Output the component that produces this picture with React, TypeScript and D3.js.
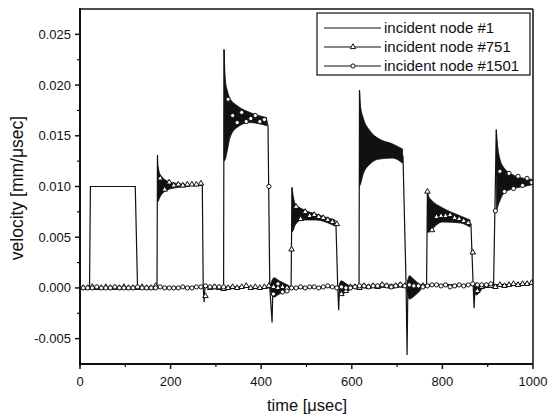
import React from "react";
import * as d3 from "d3";

const W = 550;
const H = 418;

// axes
const xDomain: [number, number] = [0, 1000];
const yDomain: [number, number] = [-0.0075, 0.0275];
const xTicks = [0, 200, 400, 600, 800, 1000];
const xMinorTicks = [100, 300, 500, 700, 900];
const yTicks = [-0.005, 0, 0.005, 0.01, 0.015, 0.02, 0.025];
const yTickLabels = ["-0.005", "0.000", "0.005", "0.010", "0.015", "0.020", "0.025"];
const yMinorTicks = [-0.0025, 0.0025, 0.0075, 0.0125, 0.0175, 0.0225];
const xTitle = "time [μsec]";
const yTitle = "velocity [mm/μsec]";
const legendLabels = ["incident node #1", "incident node #751", "incident node #1501"];

// node #1 : [time, velocity]
const node1Line: [number, number][] = [
  [0, 0], [21, 0], [23, 0.01], [122, 0.01], [127, 0], [140, 0.0], [300, 0.0001], [450, 0.0],
  [600, 0.0001], [616, 0.0001], [617, 0.0195], [620, 0.015], [630, 0.014], [650, 0.0137],
  [680, 0.0135], [713, 0.013], [720, 0], [722, -0.0066], [724, 0.0008], [730, -0.0004],
  [740, 0.0003], [760, 0.0002], [800, 0.0003], [900, 0.0003], [1000, 0.0004],
];
// oscillation envelopes : [time, upper, lower]
const node1Bands: [number, number, number][][] = [
  [[617, 0.0195, 0.01], [619, 0.018, 0.0102], [625, 0.0168, 0.0112], [640, 0.0155, 0.0122],
   [660, 0.0147, 0.0127], [690, 0.0142, 0.0128], [712, 0.0137, 0.0123]],
  [[722, 0.0003, -0.0003], [727, 0.0012, -0.0011], [738, 0.0008, -0.0008], [752, 0.0002, -0.0002]],
];

// node #751
const node751Line: [number, number][] = [
  [0, 0], [170, 0.0001], [171, 0.0131], [173, 0.01], [200, 0.0101], [270, 0.0101], [272, 0],
  [274, -0.0014], [276, 0.0002], [290, -0.0001], [350, 0.0001], [400, 0.0], [466, 0.0001],
  [468, 0.0099], [471, 0.0072], [480, 0.0073], [520, 0.007], [565, 0.0063], [569, 0],
  [571, -0.0022], [573, 0.0003], [580, -0.0004], [600, 0.0], [700, 0.0001], [765, 0.0001],
  [767, 0.0095], [770, 0.007], [790, 0.007], [820, 0.0069], [863, 0.0063], [868, 0.0001],
  [870, -0.002], [872, 0.0003], [880, 0.0], [950, 0.0003], [1000, 0.0004],
];
const node751Bands: [number, number, number][][] = [
  [[172, 0.012, 0.0085], [175, 0.0114, 0.0088], [180, 0.011, 0.0092], [195, 0.0105, 0.0097],
   [215, 0.0103, 0.0099], [240, 0.0102, 0.01]],
  [[468, 0.0099, 0.0055], [471, 0.009, 0.0057], [475, 0.0083, 0.0062], [490, 0.0078, 0.0067],
   [520, 0.0073, 0.0067], [563, 0.0067, 0.0061]],
  [[572, 0.0002, -0.0002], [576, 0.0007, -0.0006], [588, 0.0004, -0.0004], [598, 0.0001, -0.0001]],
  [[767, 0.0095, 0.0055], [770, 0.009, 0.0055], [775, 0.0087, 0.0057], [800, 0.0079, 0.0065],
   [840, 0.0071, 0.0064], [861, 0.0067, 0.006]],
  [[870, 0.0002, -0.0002], [874, 0.0005, -0.0007], [886, 0.0002, -0.0002]],
];
// marker values at t = 7, 17, ..., 997
const node751Markers = [
  0.0, 0.0, 0.0001, 0.0, 0.0, 0.0001, 0.0, 0.0, 0.0, 0.0001, 0.0, 0.0, 0.0, 0.0001, 0.0, 0.0, 0.0002,
  0.0108, 0.0097, 0.0104, 0.0101, 0.0102, 0.0101, 0.0102, 0.0102, 0.0102, 0.0103,
  -0.0008,
  0.0, 0.0001, 0.0, -0.0001, 0.0, 0.0001, 0.0, 0.0001, 0.0002, 0.0, 0.0001, 0.0, 0.0001, 0.0002,
  0.0001, 0.0, 0.0001, 0.0,
  0.0038,
  0.008, 0.0068, 0.0075, 0.0071, 0.0072, 0.007, 0.0069, 0.0067, 0.0065, 0.0063,
  -0.0006, -0.0003, 0.0001,
  0.0001, 0.0, 0.0002, 0.0001, 0.0002, 0.0001, 0.0003, 0.0002, 0.0001, 0.0002, 0.0003, 0.0002,
  0.0003, 0.0002, 0.0002, 0.0002,
  0.0095,
  0.0057, 0.007, 0.0071, 0.0071, 0.0072, 0.0069, 0.0068, 0.0066, 0.0064,
  0.0035,
  -0.0003, 0.0001, 0.0002, 0.0002, 0.0001, 0.0003, 0.0002, 0.0003, 0.0004, 0.0003, 0.0004,
  0.0004, 0.0005,
];

// node #1501
const node1501Line: [number, number][] = [
  [0, 0], [100, 0.0], [317, 0.0001], [318, 0.0235], [320, 0.0175], [330, 0.0172], [350, 0.017],
  [380, 0.0168], [412, 0.0165], [415, 0.016], [419, 0], [424, -0.0034], [426, 0.0005],
  [435, -0.0002], [450, -0.0001], [500, 0.0], [600, 0.0002], [700, 0.0003], [800, 0.0003],
  [913, 0.0003], [919, 0.0156], [921, 0.011], [940, 0.0106], [970, 0.0104], [1000, 0.0105],
];
const node1501Bands: [number, number, number][][] = [
  [[318, 0.0235, 0.0125], [321, 0.0205, 0.0127], [325, 0.0195, 0.0135], [331, 0.0187, 0.0148],
   [346, 0.018, 0.0158], [375, 0.0173, 0.0163], [412, 0.0168, 0.016]],
  [[421, 0.0004, -0.0004], [428, 0.001, -0.0009], [440, 0.0007, -0.0006], [462, 0.0002, -0.0002]],
  [[919, 0.0156, 0.0075], [922, 0.014, 0.008], [927, 0.0127, 0.0086], [935, 0.0119, 0.0093],
   [950, 0.0113, 0.0097], [980, 0.0108, 0.01], [1000, 0.0107, 0.0102]],
];
const node1501Markers = [
  0.0, 0.0, 0.0, 0.0001, 0.0, 0.0, 0.0, 0.0001, 0.0, 0.0, 0.0, 0.0, 0.0001, 0.0, 0.0, 0.0,
  0.0, 0.0001, 0.0, 0.0, 0.0, 0.0, 0.0001, 0.0, 0.0, 0.0001, 0.0001, 0.0002, 0.0001, 0.0001,
  0.0001, 0.0001,
  0.0186, 0.017, 0.0163, 0.0173, 0.0164, 0.0167, 0.017, 0.0164, 0.0166,
  0.01,
  -0.0006, 0.0004, -0.0004, -0.0003, 0.0,
  0.0, 0.0001, 0.0, 0.0001, 0.0001, 0.0, 0.0001, 0.0002, 0.0001, 0.0, 0.0001, 0.0,
  0.0, 0.0001, 0.0002, 0.0002, 0.0001, 0.0002, 0.0002, 0.0003, 0.0002, 0.0001, 0.0002, 0.0003,
  0.0002, 0.0003, 0.0002, 0.0002, 0.0001, 0.0002, 0.0003, 0.0003, 0.0002, 0.0003, 0.0001,
  0.0002, 0.0003, 0.0002, 0.0003, 0.0004, 0.0003, 0.0003, 0.0003, 0.0004,
  0.0076,
  0.0115, 0.0095, 0.0113, 0.0098, 0.011, 0.0101, 0.0108, 0.0104,
];
const markerStart = 7;
const markerStep = 10;

const FONT = "'Liberation Sans', Arial, Helvetica, sans-serif";

export default function App() {
  const x = d3.scaleLinear().domain(xDomain).range([80, 533]);
  const y = d3.scaleLinear().domain(yDomain).range([364, 9]);

  const line = d3
    .line<[number, number]>()
    .x((d) => x(d[0]))
    .y((d) => y(d[1]));
  const area = d3
    .area<[number, number, number]>()
    .x((d) => x(d[0]))
    .y0((d) => y(d[2]))
    .y1((d) => y(d[1]))
    .curve(d3.curveMonotoneX);

  const tri = d3.symbol().type(d3.symbolTriangle).size(13)() as string;

  const markerPts = (vals: number[]) =>
    vals.map((v, i) => [markerStart + i * markerStep, v] as [number, number]);

  const stroke = "#111";

  const series = [
    { line: node1Line, bands: node1Bands, markers: null as null | number[], kind: "none" },
    { line: node751Line, bands: node751Bands, markers: node751Markers, kind: "tri" },
    { line: node1501Line, bands: node1501Bands, markers: node1501Markers, kind: "circle" },
  ];

  const [x0, x1] = x.range();
  const [yb, yt] = y.range();

  return (
    <svg
      width={W}
      height={H}
      style={{ position: "absolute", left: 0, top: 0, background: "#fff" }}
    >
      <defs>
        <clipPath id="plotclip">
          <rect x={x0} y={yt} width={x1 - x0} height={yb - yt} />
        </clipPath>
      </defs>
      <rect width={W} height={H} fill="#fff" />

      {/* data */}
      <g clipPath="url(#plotclip)">
        {series.map((s, si) => (
          <g key={si}>
            {s.bands.map((b, bi) => (
              <path key={bi} d={area(b) || ""} fill={stroke} stroke={stroke} strokeWidth={0.8} />
            ))}
            <path d={line(s.line) || ""} fill="none" stroke={stroke} strokeWidth={1.2} />
          </g>
        ))}
        {series.map((s, si) =>
          s.markers ? (
            <g key={"m" + si}>
              {markerPts(s.markers).map((p, i) =>
                s.kind === "circle" ? (
                  <circle
                    key={i}
                    cx={x(p[0])}
                    cy={y(p[1])}
                    r={2.1}
                    fill="#fff"
                    stroke={stroke}
                    strokeWidth={1}
                  />
                ) : (
                  <path
                    key={i}
                    d={tri}
                    transform={`translate(${x(p[0])},${y(p[1])})`}
                    fill="#fff"
                    stroke={stroke}
                    strokeWidth={1}
                  />
                )
              )}
            </g>
          ) : null
        )}
      </g>

      {/* frame */}
      <line x1={x0} y1={yt} x2={x1} y2={yt} stroke={stroke} strokeWidth={1.5} />
      <line x1={x1} y1={yt} x2={x1} y2={yb} stroke={stroke} strokeWidth={1.5} />
      <line x1={x0} y1={yt - 1} x2={x0} y2={yb + 2} stroke={stroke} strokeWidth={2} />
      <line x1={x0 - 1} y1={yb} x2={x1} y2={yb} stroke={stroke} strokeWidth={2} />

      {/* y ticks */}
      {yTicks.map((t, i) => (
        <g key={"yt" + i}>
          <line x1={x0 - 5} x2={x0} y1={y(t)} y2={y(t)} stroke={stroke} strokeWidth={1.5} />
          <text
            x={x0 - 9}
            y={y(t)}
            dy="0.35em"
            textAnchor="end"
            fontFamily={FONT}
            fontSize={13}
            fill={stroke}
          >
            {yTickLabels[i]}
          </text>
        </g>
      ))}
      {yMinorTicks.map((t, i) => (
        <line key={"ym" + i} x1={x0 - 3} x2={x0} y1={y(t)} y2={y(t)} stroke={stroke} strokeWidth={1.2} />
      ))}

      {/* x ticks */}
      {xTicks.map((t, i) => (
        <g key={"xt" + i}>
          <line x1={x(t)} x2={x(t)} y1={yb} y2={yb + 5} stroke={stroke} strokeWidth={1.5} />
          <text
            x={x(t)}
            y={yb + 22}
            textAnchor="middle"
            fontFamily={FONT}
            fontSize={13}
            fill={stroke}
          >
            {t}
          </text>
        </g>
      ))}
      {xMinorTicks.map((t, i) => (
        <line key={"xm" + i} x1={x(t)} x2={x(t)} y1={yb} y2={yb + 3} stroke={stroke} strokeWidth={1.2} />
      ))}

      {/* titles */}
      <text
        x={307}
        y={411}
        textAnchor="middle"
        fontFamily={FONT}
        fontSize={16.5}
        fill={stroke}
      >
        {xTitle}
      </text>
      <text
        transform={`translate(23,${188}) rotate(-90)`}
        textAnchor="middle"
        fontFamily={FONT}
        fontSize={17.5}
        fill={stroke}
      >
        {yTitle}
      </text>

      {/* legend */}
      <g>
        <rect x={317} y={13} width={213} height={62} fill="#fff" stroke={stroke} strokeWidth={1.2} />
        {legendLabels.map((lab, i) => {
          const ly = 28 + i * 19;
          return (
            <g key={"lg" + i}>
              <line x1={324} x2={381} y1={ly} y2={ly} stroke={stroke} strokeWidth={1.2} />
              {i === 1 && (
                <path d={tri} transform={`translate(353,${ly})`} fill="#fff" stroke={stroke} strokeWidth={1} />
              )}
              {i === 2 && <circle cx={353} cy={ly} r={2.1} fill="#fff" stroke={stroke} strokeWidth={1} />}
              <text
                x={384}
                y={ly}
                dy="0.35em"
                fontFamily={FONT}
                fontSize={15}
                fill={stroke}
              >
                {lab}
              </text>
            </g>
          );
        })}
      </g>
    </svg>
  );
}
